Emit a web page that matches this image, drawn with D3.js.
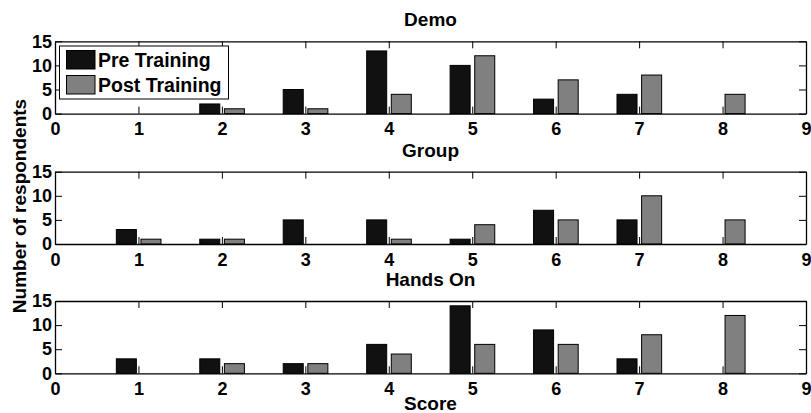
<!DOCTYPE html>
<html>
<head>
<meta charset="utf-8">
<script src="https://cdn.jsdelivr.net/npm/d3@7"></script>
<style>
  body { margin: 0; background: #fff; }
  svg { display: block; }
  text { font-family: "Liberation Sans", Arial, sans-serif; font-weight: bold; fill: #000; }
</style>
</head>
<body>
<div id="chart"></div>
<script>
// ---------- data ----------
const scores = [1, 2, 3, 4, 5, 6, 7, 8];
const panelTitles = ["Demo", "Group", "Hands On"];
const seriesNames = ["Pre Training", "Post Training"];

const demoPre   = [0, 2, 5, 13, 10, 3, 4, 0];
const demoPost  = [0, 1, 1, 4, 12, 7, 8, 4];
const groupPre  = [3, 1, 5, 5, 1, 7, 5, 0];
const groupPost = [1, 1, 0, 1, 4, 5, 10, 5];
const handsPre  = [3, 3, 2, 6, 14, 9, 3, 0];
const handsPost = [0, 2, 2, 4, 6, 6, 8, 12];

const xTicks = [0, 1, 2, 3, 4, 5, 6, 7, 8, 9];
const yTicks = [0, 5, 10, 15];

const panels = [
  { title: panelTitles[0], pre: demoPre, post: demoPost },
  { title: panelTitles[1], pre: groupPre, post: groupPost },
  { title: panelTitles[2], pre: handsPre, post: handsPost }
];

// ---------- layout ----------
const W = 811, H = 413;
const left = 55, right = 806;
const tops = [41.3, 171.7, 301];
const ph = 72.3;
const colors = ["#111111", "#808080"];
const offsets = [-0.145, 0.15];   // bar centre offset per series, in score units
const barW = 0.24;

const svg = d3.select("#chart").append("svg")
  .attr("width", W)
  .attr("height", H);

const x = d3.scaleLinear().domain([0, 9]).range([left, right]);

panels.forEach(function(p, i) {
  const top = tops[i];
  const y = d3.scaleLinear().domain([0, 15]).range([top + ph, top]);
  const g = svg.append("g");

  // bars
  [p.pre, p.post].forEach(function(vals, s) {
    g.selectAll(".bar" + s)
      .data(scores.map(function(d, k) { return { score: d, v: vals[k] }; }).filter(function(d) { return d.v > 0; }))
      .enter().append("rect")
      .attr("x", function(d) { return x(d.score + offsets[s] - barW / 2); })
      .attr("width", x(barW) - x(0))
      .attr("y", function(d) { return y(d.v); })
      .attr("height", function(d) { return y(0) - y(d.v); })
      .attr("fill", colors[s])
      .attr("stroke", "#000")
      .attr("stroke-width", 1);
  });

  // axes, ticks pointing inward
  const bottom = g.append("g")
    .attr("transform", "translate(0," + y(0) + ")")
    .call(d3.axisBottom(x).tickValues(xTicks).tickSizeInner(-7).tickSizeOuter(0).tickPadding(9));
  const leftAx = g.append("g")
    .attr("transform", "translate(" + left + ",0)")
    .call(d3.axisLeft(y).tickValues(yTicks).tickSizeInner(-7).tickSizeOuter(0).tickPadding(3));
  g.append("g")
    .attr("transform", "translate(0," + top + ")")
    .call(d3.axisTop(x).tickValues(xTicks).tickSizeInner(-7).tickSizeOuter(0).tickFormat(""));
  g.append("g")
    .attr("transform", "translate(" + right + ",0)")
    .call(d3.axisRight(y).tickValues(yTicks).tickSizeInner(-7).tickSizeOuter(0).tickFormat(""));

  g.selectAll(".domain").attr("stroke", "#000").attr("stroke-width", 1.3);
  g.selectAll(".tick line").attr("stroke", "#000").attr("stroke-width", 1);
  g.selectAll(".tick text")
    .style("font-family", "'Liberation Sans', Arial, sans-serif")
    .style("font-weight", "bold")
    .style("font-size", "18px")
    .attr("fill", "#000");

  // panel title
  g.append("text")
    .attr("x", (left + right) / 2)
    .attr("y", top - 15)
    .attr("text-anchor", "middle")
    .style("font-size", "19px")
    .text(p.title);

  // legend in first panel
  if (i === 0) {
    const lg = g.append("g");
    lg.append("rect")
      .attr("x", 59.5).attr("y", 46)
      .attr("width", 169).attr("height", 53)
      .attr("fill", "#fff").attr("stroke", "#000").attr("stroke-width", 1);
    seriesNames.forEach(function(name, s) {
      const cy = 60 + s * 25;
      lg.append("rect")
        .attr("x", 66.5).attr("y", cy - 9.5)
        .attr("width", 28.5).attr("height", 18.5)
        .attr("fill", colors[s]).attr("stroke", "#000");
      lg.append("text")
        .attr("x", 98).attr("y", cy + 7)
        .style("font-size", "19.5px")
        .text(name);
    });
  }
});

// axis labels
svg.append("text")
  .attr("x", (left + right) / 2)
  .attr("y", 410)
  .attr("text-anchor", "middle")
  .style("font-size", "19px")
  .text("Score");

svg.append("text")
  .attr("transform", "translate(26,206) rotate(-90)")
  .attr("text-anchor", "middle")
  .style("font-size", "19px")
  .text("Number of respondents");
</script>
</body>
</html>
